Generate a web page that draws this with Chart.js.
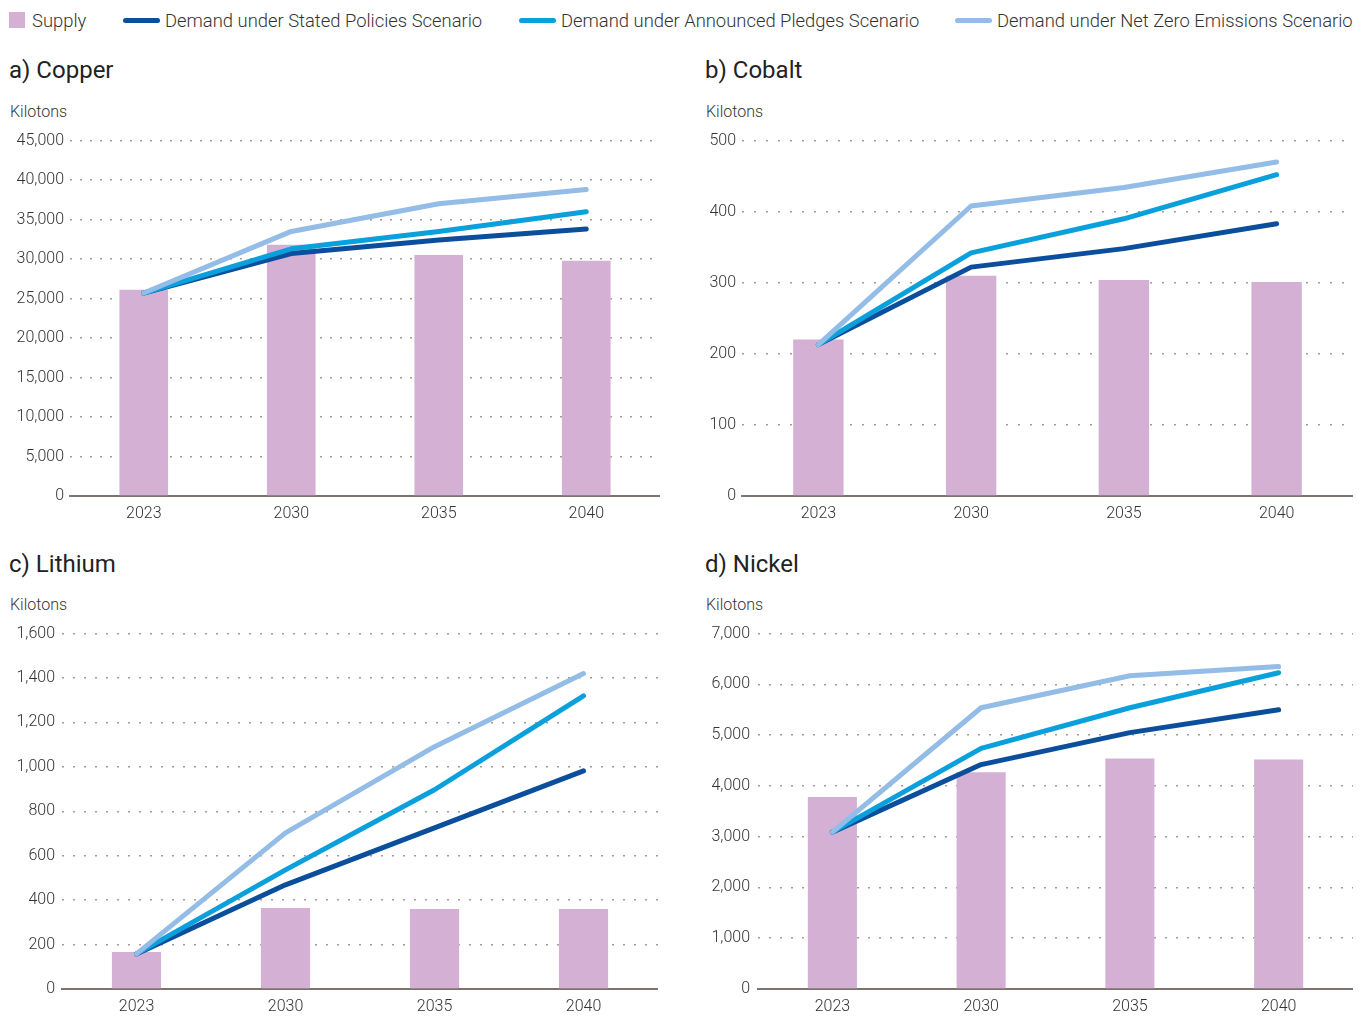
<!DOCTYPE html>
<html>
<head>
<meta charset="utf-8">
<script src="https://cdn.jsdelivr.net/npm/chart.js@4"></script>
<style>
  body { margin: 0; background: #fff; font-family: Roboto, sans-serif; }
  #page { position: relative; width: 1367px; height: 1017px; overflow: hidden; }
  .legend-item { position: absolute; top: 8px; height: 24px; display: flex; align-items: center;
                 font-size: 18.4px; font-weight: 300; color: #333; white-space: nowrap; }
  .swatch-box { width: 16px; height: 16px; background: #d4b1d4; margin-right: 7px; }
  .swatch-line { width: 37px; height: 5px; border-radius: 3px; margin-right: 5px; }
  .title { position: absolute; font-size: 24px; color: #222; line-height: 30px; }
  .unit { position: absolute; font-size: 16px; font-weight: 300; color: #333; line-height: 20px; }
  .panel { position: absolute; }
</style>
</head>
<body>
<div id="page">
  <div class="legend-item" style="left:9px"><span class="swatch-box"></span>Supply</div>
  <div class="legend-item" style="left:123px"><span class="swatch-line" style="background:#0b4f9c"></span>Demand under Stated Policies Scenario</div>
  <div class="legend-item" style="left:519px"><span class="swatch-line" style="background:#0aa0dc"></span>Demand under Announced Pledges Scenario</div>
  <div class="legend-item" style="left:955px"><span class="swatch-line" style="background:#93bce6"></span>Demand under Net Zero Emissions Scenario</div>

  <div class="title" style="left:9px;top:55px">a) Copper</div>
  <div class="unit" style="left:10px;top:102px">Kilotons</div>
  <div class="title" style="left:705px;top:55px">b) Cobalt</div>
  <div class="unit" style="left:706px;top:102px">Kilotons</div>
  <div class="title" style="left:9px;top:549px">c) Lithium</div>
  <div class="unit" style="left:10px;top:595px">Kilotons</div>
  <div class="title" style="left:705px;top:549px">d) Nickel</div>
  <div class="unit" style="left:706px;top:595px">Kilotons</div>

  <div class="panel" style="left:0;top:125px;width:660px;height:401px"><canvas id="copper"></canvas></div>
  <div class="panel" style="left:700px;top:125px;width:653px;height:401px"><canvas id="cobalt"></canvas></div>
  <div class="panel" style="left:0;top:617px;width:658px;height:402px"><canvas id="lithium"></canvas></div>
  <div class="panel" style="left:700px;top:616px;width:653px;height:403px"><canvas id="nickel"></canvas></div>
</div>

<script>
// years on the x axis
const years = ["2023", "2030", "2035", "2040"];

// copper, kilotons
const copperSupply = [26100, 31800, 30500, 29800];
const copperStated = [25700, 30700, 32400, 33800];
const copperPledges = [25700, 31300, 33500, 36000];
const copperNetZero = [25700, 33500, 37000, 38800];

// cobalt, kilotons
const cobaltSupply = [220, 310, 304, 301];
const cobaltStated = [213, 322, 348, 383];
const cobaltPledges = [213, 342, 390, 452];
const cobaltNetZero = [213, 408, 434, 470];

// lithium, kilotons
const lithiumSupply = [167, 365, 360, 360];
const lithiumStated = [158, 469, 725, 982];
const lithiumPledges = [158, 536, 897, 1320];
const lithiumNetZero = [158, 703, 1091, 1420];

// nickel, kilotons
const nickelSupply = [3780, 4270, 4540, 4520];
const nickelStated = [3090, 4420, 5050, 5500];
const nickelPledges = [3090, 4740, 5540, 6230];
const nickelNetZero = [3090, 5540, 6170, 6350];

const COLORS = {
    supply: "#d4b1d4",
    stated: "#0b4f9c",
    pledges: "#0aa0dc",
    netZero: "#93bce6"
};

function lineSet(label, data, color, order) {
    return {
        type: "line", label: label, data: data,
        borderColor: color, backgroundColor: color,
        borderWidth: 5, borderCapStyle: "round", borderJoinStyle: "round",
        pointRadius: 0, tension: 0, order: order
    };
}

function renderPanel(id, supply, stated, pledges, netZero, maxVal, step, axisWidth, labelGap, dotGap) {
    const ctx = document.getElementById(id).getContext("2d");
    return new Chart(ctx, {
        type: "bar",
        data: {
            labels: years,
            datasets: [
                { label: "Supply", data: supply, backgroundColor: COLORS.supply,
                  categoryPercentage: 1, barPercentage: 0.33, order: 4 },
                lineSet("Demand under Stated Policies Scenario", stated, COLORS.stated, 3),
                lineSet("Demand under Announced Pledges Scenario", pledges, COLORS.pledges, 2),
                lineSet("Demand under Net Zero Emissions Scenario", netZero, COLORS.netZero, 1)
            ]
        },
        options: {
            responsive: true,
            maintainAspectRatio: false,
            animation: false,
            layout: { padding: { top: 12, right: 0, bottom: 0, left: 0 } },
            plugins: { legend: { display: false }, tooltip: { enabled: false } },
            scales: {
                x: {
                    grid: { display: false, drawTicks: false },
                    border: { display: true, color: "#7d7470", width: 2 },
                    ticks: { color: "#333", padding: 8, font: { family: "Roboto", size: 16, weight: 300 } },
                    afterFit: s => { s.height = 30; }
                },
                y: {
                    min: 0, max: maxVal,
                    grid: { color: "#a89a90", lineWidth: 1.5, drawTicks: false },
                    border: { display: false, dash: [2, dotGap] },
                    ticks: { stepSize: step, color: "#333", padding: labelGap,
                             font: { family: "Roboto", size: 16, weight: 300 } },
                    afterFit: s => { s.width = axisWidth; }
                }
            }
        }
    });
}

renderPanel("copper", copperSupply, copperStated, copperPledges, copperNetZero, 45000, 5000, 70, 6, 8);
renderPanel("cobalt", cobaltSupply, cobaltStated, cobaltPledges, cobaltNetZero, 500, 100, 42, 6, 10);
renderPanel("lithium", lithiumSupply, lithiumStated, lithiumPledges, lithiumNetZero, 1600, 200, 62, 7, 9);
renderPanel("nickel", nickelSupply, nickelStated, nickelPledges, nickelNetZero, 7000, 1000, 58, 8, 9);
</script>
</body>
</html>
